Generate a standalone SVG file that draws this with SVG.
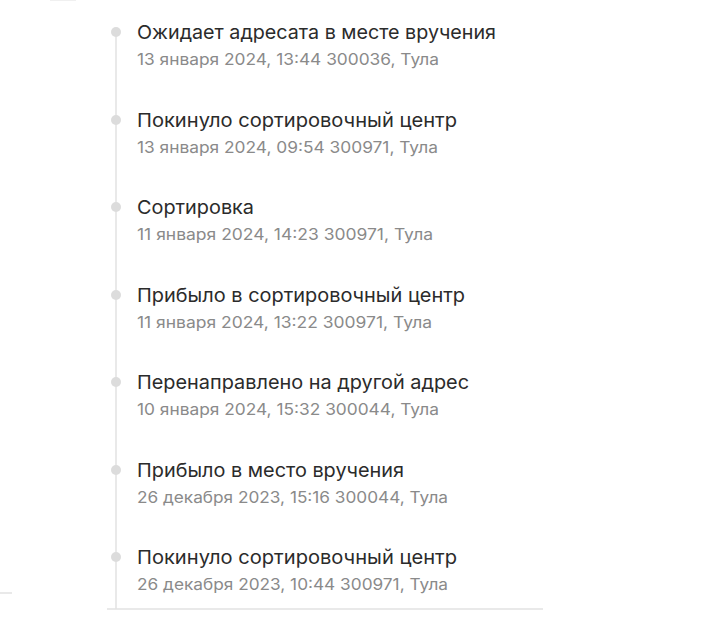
<svg xmlns="http://www.w3.org/2000/svg" width="712" height="626" viewBox="0 0 712 626">
<style>
.t{font-family:Inter,"Liberation Sans",Arial,sans-serif;font-size:19px;fill:#2b2b2b}
.s{font-family:Inter,"Liberation Sans",Arial,sans-serif;font-size:16px;fill:#8a8a8a}
.d{fill:#dcdcdc}
.ln{stroke:#e2e2e2;stroke-width:1.5;fill:none}
</style>
<rect width="712" height="626" fill="#fff"/>
<g id="connectors">
<line class="ln" x1="116" y1="32" x2="116" y2="609"/>
<line class="ln" x1="107" y1="609" x2="543" y2="609"/>
<line class="ln" x1="0" y1="593" x2="12" y2="593"/>
<line x1="50" y1="0.5" x2="76" y2="0.5" stroke="#f0f0f0" stroke-width="1"/>
</g>
<g id="e1"><circle class="d" cx="116" cy="32" r="5"/><text class="t" x="137" y="39" textLength="359" lengthAdjust="spacingAndGlyphs">Ожидает адресата в месте вручения</text><text class="s" x="137" y="65" textLength="302" lengthAdjust="spacingAndGlyphs">13 января 2024, 13:44 300036, Тула</text></g>
<g id="e2"><circle class="d" cx="116" cy="120" r="5"/><text class="t" x="137" y="127" textLength="320" lengthAdjust="spacingAndGlyphs">Покинуло сортировочный центр</text><text class="s" x="137" y="153" textLength="301" lengthAdjust="spacingAndGlyphs">13 января 2024, 09:54 300971, Тула</text></g>
<g id="e3"><circle class="d" cx="116" cy="207" r="5"/><text class="t" x="137" y="214" textLength="117" lengthAdjust="spacingAndGlyphs">Сортировка</text><text class="s" x="137" y="240" textLength="296" lengthAdjust="spacingAndGlyphs">11 января 2024, 14:23 300971, Тула</text></g>
<g id="e4"><circle class="d" cx="116" cy="295" r="5"/><text class="t" x="137" y="302" textLength="328" lengthAdjust="spacingAndGlyphs">Прибыло в сортировочный центр</text><text class="s" x="137" y="328" textLength="295" lengthAdjust="spacingAndGlyphs">11 января 2024, 13:22 300971, Тула</text></g>
<g id="e5"><circle class="d" cx="116" cy="382" r="5"/><text class="t" x="137" y="389" textLength="332" lengthAdjust="spacingAndGlyphs">Перенаправлено на другой адрес</text><text class="s" x="137" y="415" textLength="302" lengthAdjust="spacingAndGlyphs">10 января 2024, 15:32 300044, Тула</text></g>
<g id="e6"><circle class="d" cx="116" cy="470" r="5"/><text class="t" x="137" y="477" textLength="267" lengthAdjust="spacingAndGlyphs">Прибыло в место вручения</text><text class="s" x="137" y="503" textLength="311" lengthAdjust="spacingAndGlyphs">26 декабря 2023, 15:16 300044, Тула</text></g>
<g id="e7"><circle class="d" cx="116" cy="557" r="5"/><text class="t" x="137" y="564" textLength="320" lengthAdjust="spacingAndGlyphs">Покинуло сортировочный центр</text><text class="s" x="137" y="590" textLength="311" lengthAdjust="spacingAndGlyphs">26 декабря 2023, 10:44 300971, Тула</text></g>
</svg>
